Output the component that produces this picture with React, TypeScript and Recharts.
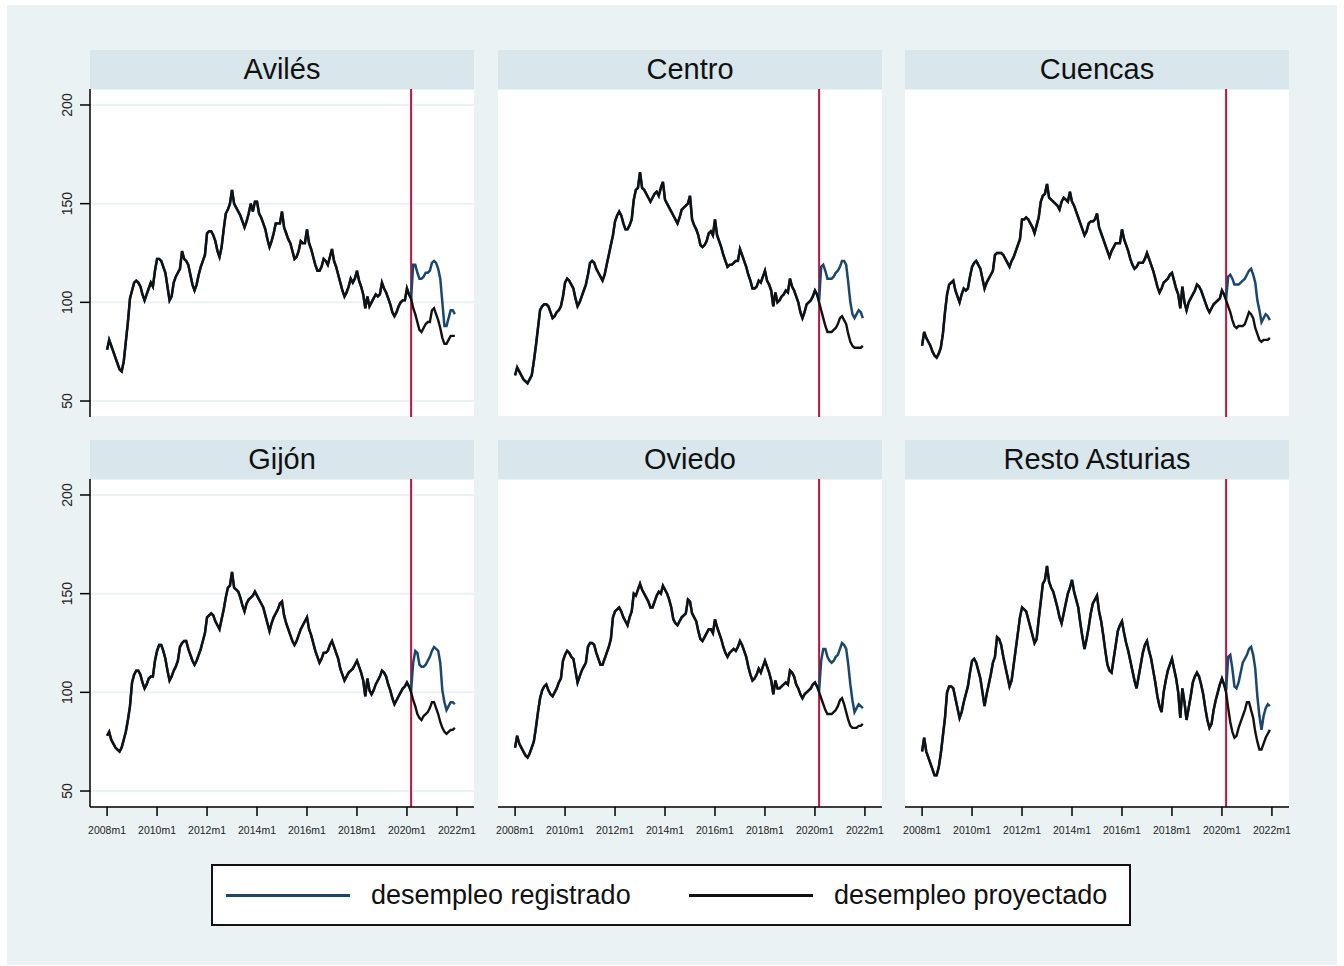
import React from 'react';
import { LineChart, Line, XAxis, YAxis, CartesianGrid, ReferenceLine } from 'recharts';

const AZUL = '#1a476f';
const NEGRO = '#111111';
const ROJO = '#c8103a';
const FONDO = '#eaf2f3';
const BANDA = '#d9e6eb';
const FONT = '"Liberation Sans", Arial, Helvetica, sans-serif';

// eje x: índice de mes desde 2008m1
const X_TICKS = [0, 24, 48, 72, 96, 120, 144, 168];
const X_LABELS = ['2008m1', '2010m1', '2012m1', '2014m1', '2016m1', '2018m1', '2020m1', '2022m1'];
const Y_TICKS = [50, 100, 150, 200];
const CORTE = 146; // 2020m3

// 2008m1 .. 2020m2 (común a ambas series)
const avilesHist = [
  76, 81, 78, 75, 72, 69, 66, 65, 70, 80, 90, 102,
  106, 110, 111, 110, 108, 104, 101, 104, 107, 110, 108, 116,
  122, 122, 121, 118, 115, 108, 101, 103, 110, 113, 115, 117,
  126, 122, 121, 119, 114, 109, 106, 109, 114, 118, 121, 124,
  135, 136, 136, 134, 131, 126, 123, 128, 137, 145, 147, 150,
  157, 150, 148, 146, 144, 141, 138, 141, 145, 150, 146, 151,
  151, 145, 143, 140, 137, 132, 128, 131, 135, 140, 140, 140,
  146, 138, 135, 132, 130, 126, 122, 123, 126, 131, 130, 130,
  137, 130, 127, 123, 119, 116, 116, 118, 122, 121, 119, 123,
  127, 121, 118, 114, 110, 106, 103, 105, 108, 112, 110, 112,
  116, 111, 108, 104, 97, 103, 98, 100, 102, 104, 103, 104,
  110, 107, 105, 102, 99, 95, 93, 95, 98, 100, 101, 101,
  107, 104,
];
// 2020m3 .. 2021m12
const avilesReg = [102, 119, 119, 115, 112, 112, 113, 115, 115, 116, 120, 121, 120, 117, 112, 100, 88, 88, 92, 96, 96, 94];
const avilesProy = [102, 97, 94, 90, 86, 85, 87, 89, 90, 90, 96, 97, 94, 91, 87, 82, 79, 79, 81, 83, 83, 83];

const centroHist = [
  63, 67, 65, 63, 61, 60, 59, 61, 63, 70, 78, 87,
  96, 98, 99, 99, 98, 95, 92, 93, 95, 96, 98, 103,
  110, 112, 111, 109, 107, 102, 98, 100, 103, 106, 109, 114,
  120, 121, 120, 117, 115, 113, 111, 114, 119, 124, 129, 134,
  141, 144, 146, 144, 140, 137, 137, 139, 142, 152, 157, 158,
  166, 158, 157, 155, 153, 151, 153, 155, 156, 154, 158, 161,
  152, 150, 148, 146, 144, 142, 140, 143, 147, 148, 149, 150,
  154, 142, 139, 137, 134, 129, 128, 129, 131, 135, 136, 134,
  142, 134, 131, 128, 124, 121, 118, 119, 119, 120, 121, 121,
  127, 124, 121, 118, 114, 111, 107, 107, 108, 111, 110, 113,
  116, 111, 109, 106, 98, 105, 100, 101, 103, 104, 106, 105,
  112, 108, 106, 103, 100, 95, 92, 95, 99, 100, 101, 103,
  106, 104,
];
const centroReg = [101, 118, 119, 116, 112, 112, 112, 113, 115, 116, 118, 121, 121, 119, 110, 100, 94, 92, 94, 96, 95, 92];
const centroProy = [100, 96, 92, 88, 85, 85, 85, 86, 87, 89, 92, 93, 91, 89, 84, 80, 78, 77, 77, 77, 77, 78];

const cuencasHist = [
  78, 85, 82, 80, 78, 75, 73, 72, 74, 77, 84, 95,
  104, 109, 110, 111, 106, 103, 100, 104, 107, 106, 107, 113,
  118, 120, 121, 119, 117, 112, 107, 110, 112, 114, 116, 124,
  125, 125, 125, 124, 122, 120, 118, 121, 123, 126, 129, 132,
  142, 142, 143, 142, 140, 138, 135, 139, 143, 151, 154, 155,
  160, 153, 152, 151, 150, 149, 147, 151, 153, 152, 151, 156,
  151, 149, 146, 143, 140, 137, 134, 136, 140, 141, 141, 142,
  145, 138, 135, 132, 129, 126, 123, 126, 128, 130, 130, 130,
  137, 132, 129, 126, 122, 119, 117, 118, 120, 120, 120, 122,
  125, 122, 119, 116, 112, 108, 105, 107, 110, 111, 112, 114,
  115, 111, 107, 104, 97, 108, 100, 96, 100, 102, 104, 106,
  109, 108, 106, 103, 100, 97, 95, 97, 99, 100, 101, 102,
  106, 104,
];
const cuencasReg = [102, 113, 114, 112, 109, 109, 109, 110, 111, 112, 114, 116, 117, 114, 110, 101, 96, 90, 92, 94, 93, 91];
const cuencasProy = [101, 98, 95, 91, 88, 87, 88, 88, 88, 89, 92, 95, 94, 92, 87, 84, 81, 80, 81, 81, 81, 82];

const gijonHist = [
  78, 80, 76, 74, 72, 71, 70, 72, 76, 80, 86, 93,
  105, 109, 111, 111, 109, 105, 102, 104, 107, 108, 108, 116,
  121, 124, 124, 121, 117, 111, 106, 108, 111, 113, 116, 123,
  125, 126, 126, 122, 119, 116, 114, 116, 119, 122, 126, 130,
  138, 139, 140, 139, 136, 134, 132, 137, 142, 148, 153, 154,
  161, 153, 152, 151, 148, 144, 141, 145, 147, 148, 149, 151,
  149, 147, 145, 143, 139, 135, 131, 135, 138, 140, 142, 145,
  146, 139, 135, 132, 129, 126, 124, 126, 129, 132, 134, 136,
  138, 132, 129, 125, 121, 118, 115, 117, 120, 120, 121, 124,
  126, 123, 120, 117, 112, 109, 106, 108, 110, 111, 112, 114,
  116, 113, 110, 106, 98, 107, 101, 99, 101, 104, 106, 108,
  111, 110, 108, 104, 101, 97, 94, 96, 98, 100, 102, 103,
  105, 103,
];
const gijonReg = [101, 115, 121, 120, 114, 113, 113, 114, 116, 118, 121, 123, 122, 121, 115, 101, 95, 91, 93, 95, 95, 94];
const gijonProy = [100, 96, 93, 89, 87, 86, 88, 89, 90, 92, 95, 95, 92, 89, 85, 82, 80, 79, 80, 81, 81, 82];

const oviedoHist = [
  72, 78, 74, 72, 70, 68, 67, 69, 72, 75, 82, 90,
  97, 101, 103, 104, 101, 99, 98, 100, 102, 105, 107, 116,
  119, 121, 120, 118, 117, 111, 105, 108, 111, 113, 115, 123,
  125, 125, 124, 120, 117, 114, 114, 117, 120, 123, 127, 138,
  141, 142, 143, 141, 138, 136, 134, 138, 141, 150, 149, 152,
  155, 152, 150, 148, 146, 143, 143, 146, 149, 151, 150, 154,
  152, 150, 147, 143, 137, 135, 134, 136, 138, 139, 140, 147,
  146, 140, 138, 136, 131, 127, 126, 128, 130, 132, 132, 130,
  137, 133, 130, 127, 123, 120, 118, 120, 121, 122, 121, 123,
  126, 124, 121, 118, 113, 109, 106, 107, 109, 112, 110, 113,
  116, 113, 110, 106, 99, 106, 102, 102, 103, 104, 105, 104,
  111, 110, 108, 104, 102, 99, 97, 99, 100, 101, 102, 104,
  105, 103,
];
const oviedoReg = [101, 116, 122, 122, 118, 116, 115, 116, 118, 119, 122, 125, 124, 122, 114, 104, 96, 90, 92, 94, 93, 92];
const oviedoProy = [100, 97, 94, 91, 89, 89, 89, 90, 91, 93, 96, 97, 94, 90, 86, 83, 82, 82, 82, 83, 83, 84];

const restoHist = [
  70, 77, 70, 67, 64, 61, 58, 58, 62, 69, 78, 87,
  100, 103, 103, 102, 97, 92, 87, 90, 95, 99, 103, 110,
  116, 117, 115, 111, 107, 100, 93, 99, 104, 109, 115, 118,
  128, 127, 124, 118, 113, 108, 103, 106, 114, 122, 130, 138,
  143, 142, 141, 137, 133, 129, 125, 127, 137, 146, 155, 157,
  164, 156, 153, 151, 147, 143, 138, 135, 140, 145, 150, 153,
  157, 151, 147, 143, 135, 128, 122, 127, 133, 140, 145, 147,
  149, 141, 136, 129, 121, 114, 111, 110, 117, 124, 131, 134,
  136, 130, 125, 121, 116, 111, 106, 102, 108, 114, 120, 124,
  126, 121, 117, 111, 105, 98, 93, 90, 100, 106, 111, 114,
  117, 112, 107, 100, 87, 102, 95, 86, 92, 98, 105, 108,
  110, 108, 104, 99, 92, 86, 82, 84, 91, 96, 100, 104,
  107, 104,
];
const restoReg = [101, 118, 119, 112, 103, 102, 105, 110, 115, 117, 119, 122, 123, 119, 112, 98, 88, 81, 88, 92, 94, 93];
const restoProy = [100, 92, 85, 80, 77, 78, 82, 85, 88, 91, 95, 95, 91, 87, 80, 75, 71, 71, 74, 77, 79, 81];

type Panel = { nombre: string; hist: number[]; reg: number[]; proy: number[] };

const PANELES: Panel[] = [
  { nombre: 'Avilés', hist: avilesHist, reg: avilesReg, proy: avilesProy },
  { nombre: 'Centro', hist: centroHist, reg: centroReg, proy: centroProy },
  { nombre: 'Cuencas', hist: cuencasHist, reg: cuencasReg, proy: cuencasProy },
  { nombre: 'Gijón', hist: gijonHist, reg: gijonReg, proy: gijonProy },
  { nombre: 'Oviedo', hist: oviedoHist, reg: oviedoReg, proy: oviedoProy },
  { nombre: 'Resto Asturias', hist: restoHist, reg: restoReg, proy: restoProy },
];

const COL_X = [90, 498, 905];
const ROW_Y = [89, 479];
const PLOT_W = 384;
const PLOT_H = 328;
const AXIS_W = 40;
const PAD_R = 24; // sitio para la última etiqueta del eje x

function buildRows(p: Panel) {
  const reg = [...p.hist, ...p.reg];
  const proy = [...p.hist, ...p.proy];
  return reg.map((v, i) => ({ mes: i, registrado: v, proyectado: proy[i] }));
}

const renderYTick = (props: any) => {
  const { x, y, payload } = props;
  const tx = x - 6;
  return (
    <text
      x={tx}
      y={y}
      transform={`rotate(-90 ${tx} ${y})`}
      textAnchor="middle"
      fontSize={14}
      fontFamily={FONT}
      fill="#222"
    >
      {payload.value}
    </text>
  );
};

function PanelChart({ panel, idx }: { panel: Panel; idx: number }) {
  const col = idx % 3;
  const row = Math.floor(idx / 3);
  const left = COL_X[col];
  const top = ROW_Y[row];
  const bottomRow = row === 1;
  const leftCol = col === 0;
  const rows = buildRows(panel);

  return (
    <>
      <div style={{
        position: 'absolute', left, top: top - 39, width: PLOT_W, height: 39,
        background: BANDA, display: 'flex', alignItems: 'center', justifyContent: 'center',
        fontSize: 29, fontFamily: FONT, color: '#111',
      }}>
        {panel.nombre}
      </div>
      <div style={{ position: 'absolute', left: left - AXIS_W, top }}>
        <LineChart
          width={PLOT_W + AXIS_W + PAD_R}
          height={bottomRow ? PLOT_H + 34 : PLOT_H}
          data={rows}
          margin={{ top: 0, right: PAD_R, bottom: 0, left: 0 }}
        >
          <CartesianGrid vertical={false} stroke={FONDO} strokeWidth={2} fill="#ffffff" fillOpacity={1} />
          <XAxis
            dataKey="mes"
            type="number"
            domain={[-8.2, 176.2]}
            ticks={X_TICKS}
            tickFormatter={(v: number) => X_LABELS[X_TICKS.indexOf(v)]}
            hide={!bottomRow}
            height={34}
            axisLine={{ stroke: '#000', strokeWidth: 1.5 }}
            tickLine={{ stroke: '#000', strokeWidth: 1.5 }}
            tickSize={9}
            tickMargin={11}
            tick={{ fontSize: 10.5, fontFamily: FONT, fill: '#222' }}
            interval={0}
          />
          <YAxis
            type="number"
            domain={[41.9, 208.1]}
            ticks={Y_TICKS}
            width={AXIS_W}
            axisLine={leftCol ? { stroke: '#000', strokeWidth: 1.5 } : false}
            tickLine={leftCol ? { stroke: '#000', strokeWidth: 1.5 } : false}
            tick={leftCol ? renderYTick : false}
            tickSize={10}
            interval={0}
          />
          <ReferenceLine x={CORTE} stroke={ROJO} strokeWidth={2} />
          <Line type="linear" dataKey="registrado" stroke={AZUL} strokeWidth={2.5} dot={false} isAnimationActive={false} />
          <Line type="linear" dataKey="proyectado" stroke={NEGRO} strokeWidth={2.4} dot={false} isAnimationActive={false} />
        </LineChart>
      </div>
    </>
  );
}

export default function App() {
  return (
    <div style={{ position: 'absolute', left: 0, top: 0, width: 1344, height: 966, background: '#fff', fontFamily: FONT }}>
      <div style={{ position: 'absolute', left: 7, top: 5, width: 1330, height: 960, background: FONDO }} />
      {PANELES.map((p, i) => (
        <PanelChart key={p.nombre} panel={p} idx={i} />
      ))}

      {/* Leyenda */}
      <div style={{
        position: 'absolute', left: 211, top: 864, width: 920, height: 62,
        boxSizing: 'border-box', border: '2px solid #111', background: '#fff',
      }} />
      <div style={{ position: 'absolute', left: 226, top: 894, width: 124, height: 3, background: AZUL }} />
      <div style={{ position: 'absolute', left: 371, top: 879, height: 32, lineHeight: '32px', fontSize: 27, color: '#111' }}>
        desempleo registrado
      </div>
      <div style={{ position: 'absolute', left: 689, top: 894, width: 124, height: 3, background: NEGRO }} />
      <div style={{ position: 'absolute', left: 834, top: 879, height: 32, lineHeight: '32px', fontSize: 27, color: '#111' }}>
        desempleo proyectado
      </div>
    </div>
  );
}
